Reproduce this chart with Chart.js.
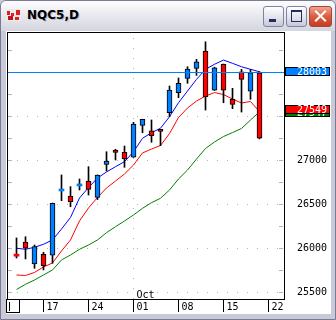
<!DOCTYPE html>
<html>
<head>
<meta charset="utf-8">
<script src="https://cdn.jsdelivr.net/npm/chart.js@4"></script>
<style>
  html, body { margin: 0; padding: 0; background: #c9cad8; }
  #win { position: absolute; left: 0; top: 0; width: 334px; height: 318px; border: 1px solid #7a7b92;
         border-radius: 6px 6px 0 0; background: #c9cad8; overflow: hidden; }
  #title { position: absolute; left: 0; top: 0; width: 334px; height: 30px;
           background: linear-gradient(#fdfdfe, #ececf2 40%, #d5d5e0); }
  #title span { position: absolute; left: 26px; top: 7px; font: bold 12px "DejaVu Sans", sans-serif; color: #000;
                text-shadow: 1px 1px 0 #b8b8c8; }
  .btn { position: absolute; top: 5px; width: 19px; height: 19px; border: 1px solid #7e839f; border-radius: 3px;
         background: linear-gradient(#ffffff, #e2e3ec 55%, #c6c8d8); }
  .glyph { position: absolute; background: #242c5c; }
  #close { background: linear-gradient(#f1a48f, #dd5a3e 50%, #c43e20); border-color: #9c4a3a; }
  #content { position: absolute; left: 5px; top: 30px; width: 325px; height: 283px; background: #fff; }
  .ic { position: absolute; background: #e02020; }
</style>
</head>
<body>
<div id="win">
  <div id="title">
    <div style="position:absolute;left:5px;top:8px;width:15px;height:12px;background:#ececec;"></div>
    <div class="ic" style="left:6px;top:10px;width:3px;height:4px;"></div>
    <div class="ic" style="left:10px;top:12px;width:3px;height:3px;"></div>
    <div class="ic" style="left:15px;top:9px;width:4px;height:5px;"></div>
    <div class="ic" style="left:7px;top:15px;width:5px;height:4px;background:#c01818;"></div>
    <div class="ic" style="left:14px;top:16px;width:4px;height:3px;"></div>
    <span>NQC5,D</span>
    <div class="btn" style="left:262px;"><div class="glyph" style="left:5px;top:12px;width:7px;height:3px;"></div></div>
    <div class="btn" style="left:285px;">
      <div style="position:absolute;left:4px;top:3px;width:9px;height:9px;border:1px solid #242c5c;border-top-width:2px;"></div>
    </div>
    <div class="btn" id="close" style="left:308px;width:21px;">
      <div style="position:absolute;left:3px;top:8px;width:15px;height:2px;background:#fff;transform:rotate(45deg);"></div>
      <div style="position:absolute;left:3px;top:8px;width:15px;height:2px;background:#fff;transform:rotate(-45deg);"></div>
    </div>
  </div>
  <div id="content"><canvas id="chart" width="325" height="283"></canvas></div>
</div>
<script>
// trading days, 12 Sep .. 21 Oct
const days = ['12','15','16','17','18','19','22','23','24','25','26','29','30',
              '01','02','03','06','07','08','09','10','13','14','15','16','17','20','21'];
const openP  = [25912, 26068, 25818, 25928, 25917, 26648, 26591, 26705, 26761, 26576, 26951, 27114, 27087, 27031,
                27394, 27333, 27349, 27537, 27765, 27928, 28042, 28239, 27795, 28087, 27690, 28003, 27781, 27992];
const highP  = [26114, 26128, 26034, 25951, 26511, 26830, 26697, 26784, 26924, 26830, 27094, 27122, 27159, 27428,
                27463, 27455, 27349, 27841, 27932, 28060, 28144, 28344, 28055, 28091, 27815, 28031, 28031, 28005];
const lowP   = [25886, 25875, 25769, 25750, 25826, 26537, 26469, 26659, 26602, 26551, 26875, 27000, 26917, 27031,
                27310, 27201, 27163, 27492, 27708, 27872, 27962, 27568, 27790, 27651, 27583, 27545, 27690, 27240];
const closeP = [25907, 25997, 26015, 25799, 26508, 26653, 26526, 26710, 26667, 26830, 26989, 27087, 27011, 27409,
                27463, 27276, 27326, 27795, 27872, 28034, 28117, 27716, 28049, 27795, 27633, 27917, 27992, 27247];

// moving averages (blue fast, red medium, green slow)
const blueMA  = [25997, 25985, 26008, 26042, 26091, 26216, 26347, 26568, 26687, 26795, 26864, 26924, 26981, 27094,
                 27247, 27310, 27361, 27492, 27651, 27784, 27917, 28031, 28088, 28136, 28099, 28060, 28031, 28003];
const redMA   = [25693, 25687, 25722, 25784, 25830, 25966, 26091, 26307, 26455, 26574, 26682, 26761, 26841, 26943,
                 27080, 27125, 27165, 27301, 27483, 27591, 27670, 27727, 27767, 27744, 27693, 27648, 27665, 27549];
const greenMA = [25528, 25587, 25636, 25693, 25750, 25864, 25920, 25985, 26034, 26091, 26174, 26242, 26307, 26375,
                 26451, 26515, 26565, 26659, 26784, 26886, 27011, 27131, 27205, 27267, 27312, 27358, 27455, 27547];

// axis labels
const weekTickIdx = [4, 9, 14, 19, 24, 29];
const weekTickLabels = ['17', '24', '01', '08', '15', '22'];
const monthIdx = 14;
const monthLabel = 'Oct';
const yLabels = [25500, 26000, 26500, 27000, 27500, 28000];

const UP = '#0080ff', DOWN = '#ff0000';
const MONO = '10px "DejaVu Sans Mono", monospace';

const tags = [
  { value: blueMA[blueMA.length - 1], color: '#0080ff', line: true },
  { value: redMA[redMA.length - 1], color: '#ff0000' },
  { value: greenMA[greenMA.length - 1], color: '#008000' }
];

const xy = arr => arr.map((v, i) => ({ x: i + 1, y: v }));
const isDoji = i => Math.abs(closeP[i] - openP[i]) < 10;

const decor = {
  id: 'decor',
  beforeDatasetsDraw(chart) {
    const { ctx, chartArea: a, scales: { x, y } } = chart;
    ctx.save();
    ctx.fillStyle = '#b4b4b4';
    for (let v = Math.ceil(y.min / 250) * 250; v <= y.max; v += 250) {
      const py = Math.round(y.getPixelForValue(v));
      if (v % 500 === 0) {
        for (let px = a.left + 10; px < a.right - 2; px += 10) ctx.fillRect(px, py, 1, 1);
      }
      ctx.fillRect(a.left + 1, py, 4, 1);
      ctx.fillRect(a.right - 5, py, 4, 1);
    }
    const mx = Math.floor(x.getPixelForValue(monthIdx));
    for (let py = a.top + 6; py < a.bottom; py += 10) ctx.fillRect(mx, py, 1, 1);
    ctx.restore();
  },
  afterDatasetsDraw(chart) {
    const { ctx, chartArea: a, scales: { x, y } } = chart;
    ctx.save();
    // value line of the fast average
    tags.filter(t => t.line).forEach(t => {
      const py = Math.round(y.getPixelForValue(t.value)) + 0.5;
      ctx.strokeStyle = t.color; ctx.lineWidth = 1;
      ctx.beginPath(); ctx.moveTo(a.left, py); ctx.lineTo(a.right, py); ctx.stroke();
    });
    // frame
    ctx.strokeStyle = '#000'; ctx.lineWidth = 1;
    ctx.strokeRect(a.left + 0.5, a.top + 0.5, a.right - a.left, a.bottom - a.top);
    // date axis
    ctx.font = MONO; ctx.fillStyle = '#000'; ctx.textAlign = 'left'; ctx.textBaseline = 'middle';
    weekTickIdx.forEach((idx, k) => {
      const px = x.getPixelForValue(idx);
      ctx.beginPath(); ctx.moveTo(px, a.bottom); ctx.lineTo(px, a.bottom + 13); ctx.stroke();
      ctx.fillText(weekTickLabels[k], px + 3, a.bottom + 8);
    });
    ctx.fillText(monthLabel, x.getPixelForValue(monthIdx) + 3, a.bottom - 4);
    ctx.strokeRect(0.5, a.bottom + 0.5, 13, 13);
    ctx.beginPath(); ctx.moveTo(3.5, a.bottom + 3); ctx.lineTo(3.5, a.bottom + 12); ctx.stroke();
    // value tags on the price axis
    const placed = tags.map(t => ({ ...t, py: y.getPixelForValue(t.value) }))
                       .sort((p, q) => p.py - q.py);
    for (let k = 1; k < placed.length; k++) {
      if (placed[k].py - placed[k - 1].py < 9) { placed[k - 1].py -= 2; placed[k].py += 1; placed[k].under = true; }
    }
    placed.sort((p, q) => (q.under ? 1 : 0) - (p.under ? 1 : 0)).forEach(t => {
      const top = Math.round(t.py - 4.5);
      ctx.fillStyle = t.color;
      ctx.fillRect(a.right + 1, top, 45, 9);
      ctx.strokeStyle = '#000';
      ctx.strokeRect(a.right + 1.5, top + 0.5, 44, 8);
      ctx.fillStyle = '#fff';
      ctx.fillText(String(t.value), a.right + 13, top + 5);
    });
    ctx.restore();
  }
};

new Chart(document.getElementById('chart').getContext('2d'), {
  type: 'bar',
  data: {
    datasets: [
      {
        label: 'body',
        data: days.map((d, i) => ({ x: i + 1, y: [openP[i], closeP[i]] })),
        backgroundColor: c => closeP[c.dataIndex] >= openP[c.dataIndex] ? UP : DOWN,
        borderColor: c => isDoji(c.dataIndex) ? (closeP[c.dataIndex] >= openP[c.dataIndex] ? UP : DOWN) : '#000',
        borderWidth: c => isDoji(c.dataIndex) ? 0 : 1,
        borderSkipped: false,
        barThickness: 5,
        minBarLength: 2,
        grouped: false,
        order: 1
      },
      {
        label: 'wick',
        data: days.map((d, i) => ({ x: i + 1, y: [lowP[i], highP[i]] })),
        backgroundColor: '#000',
        borderWidth: 0,
        barThickness: 1,
        grouped: false,
        order: 2
      },
      { type: 'line', label: 'fast', data: xy(blueMA), borderColor: '#0000ff', borderWidth: 1, pointRadius: 0, order: 3 },
      { type: 'line', label: 'mid', data: xy(redMA), borderColor: '#ff0000', borderWidth: 1, pointRadius: 0, order: 3 },
      { type: 'line', label: 'slow', data: xy(greenMA), borderColor: '#008000', borderWidth: 1, pointRadius: 0, order: 3 }
    ]
  },
  options: {
    responsive: false,
    animation: false,
    events: [],
    layout: { padding: { left: 1, top: 1, right: 0, bottom: 15 } },
    plugins: { legend: { display: false }, tooltip: { enabled: false } },
    scales: {
      x: { type: 'linear', offset: false, min: -1 / 18, max: -1 / 18 + 277 / 9, display: false },
      y: {
        position: 'right',
        min: 25420,
        max: 28455,
        grid: { display: false, drawTicks: false },
        border: { display: false },
        afterBuildTicks: s => { s.ticks = yLabels.map(v => ({ value: v })); },
        afterFit: s => { s.width = 47; s.paddingTop = 0; s.paddingBottom = 0; },
        ticks: {
          font: { family: 'DejaVu Sans Mono', size: 10 },
          color: '#000',
          padding: 13,
          crossAlign: 'near',
          autoSkip: false,
          callback: v => tags.some(t => Math.abs(t.value - v) < 120) ? '' : String(v)
        }
      }
    }
  },
  plugins: [decor]
});
</script>
</body>
</html>
